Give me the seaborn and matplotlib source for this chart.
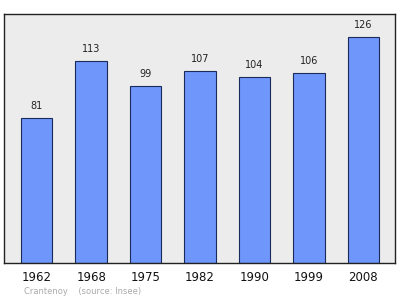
import matplotlib
matplotlib.use("Agg")
import matplotlib.pyplot as plt
import seaborn as sns
import pandas as pd

years = ["1962", "1968", "1975", "1982", "1990", "1999", "2008"]
population = [81, 113, 99, 107, 104, 106, 126]

df = pd.DataFrame({"year": years, "pop": population})

fig = plt.figure(figsize=(4.0, 2.99), dpi=100)
ax = fig.add_axes([4/400, 1 - 263/299, 391/400, 249/299])
ax.set_facecolor("#ececec")

sns.barplot(data=df, x="year", y="pop", ax=ax, color="#6f96fb",
            width=0.58, edgecolor="#1a2a5a", linewidth=0.8, saturation=1)

for i, v in enumerate(population):
    ax.annotate(str(v), (i, v), xytext=(0, 5), textcoords="offset points",
                ha="center", va="bottom", fontsize=7, color="#222222")

ax.set_xlim(-0.6, 6.58)
ax.set_ylim(0, 139)
ax.set_yticks([])
ax.set_xlabel("")
ax.set_ylabel("")
ax.tick_params(axis="x", length=0, labelsize=8.5, pad=6, colors="#111111")
for s in ax.spines.values():
    s.set_color("#222222")
    s.set_linewidth(1.0)

fig.text(24/400, 1 - 292/299, "Crantenoy    (source: Insee)", fontsize=6,
         color="#aaaaaa", ha="left", va="center")

fig.savefig("out.png", dpi=100)
